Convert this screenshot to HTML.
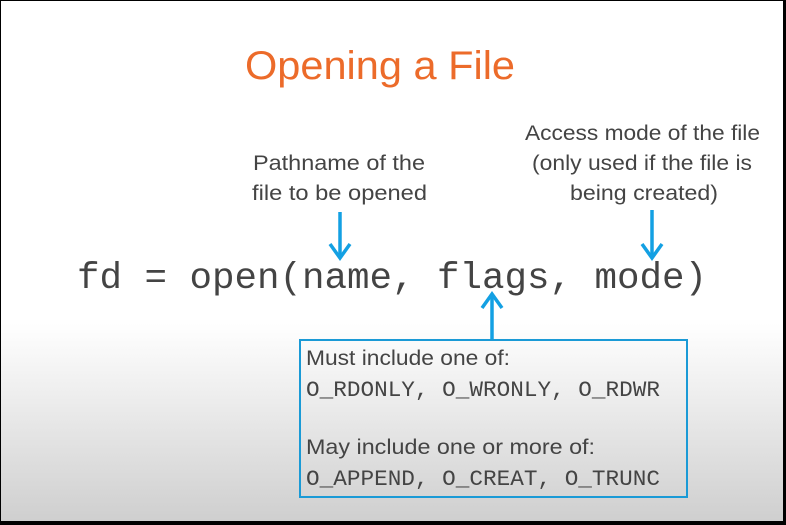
<!DOCTYPE html>
<html><head><meta charset="utf-8"><style>
html,body{margin:0;padding:0;width:786px;height:525px;overflow:hidden;background:#000}
svg{display:block}
</style></head><body>
<svg width="786" height="525" viewBox="0 0 786 525" xmlns="http://www.w3.org/2000/svg">
<defs>
<linearGradient id="bg" x1="0" y1="0" x2="0" y2="1">
<stop offset="0" stop-color="#ffffff"/>
<stop offset="0.62" stop-color="#ffffff"/>
<stop offset="1" stop-color="#cfcfcf"/>
</linearGradient>
</defs>
<rect x="1" y="1" width="782" height="520" fill="url(#bg)"/>
<text x="245" y="79" font-family="Liberation Sans, sans-serif" font-size="40" fill="#ec6b2a" textLength="270" lengthAdjust="spacingAndGlyphs">Opening a File</text>
<g font-family="Liberation Sans, sans-serif" font-size="21" fill="#444">
<text x="253" y="170" textLength="172" lengthAdjust="spacingAndGlyphs">Pathname of the</text>
<text x="252" y="200" textLength="175" lengthAdjust="spacingAndGlyphs">file to be opened</text>
<text x="525" y="140" textLength="235" lengthAdjust="spacingAndGlyphs">Access mode of the file</text>
<text x="532" y="170" textLength="220" lengthAdjust="spacingAndGlyphs">(only used if the file is</text>
<text x="570" y="200" textLength="148" lengthAdjust="spacingAndGlyphs">being created)</text>
</g>
<text x="77" y="288" font-family="Liberation Mono, monospace" font-size="37.5" fill="#444" textLength="630" lengthAdjust="spacingAndGlyphs">fd = open(name, flags, mode)</text>
<g stroke="#13a0e3" stroke-width="3.5" fill="none">
<line x1="340" y1="212" x2="340" y2="256"/>
<polyline points="330,244 340,258 350,244"/>
<line x1="652" y1="210" x2="652" y2="256"/>
<polyline points="642,244 652,258 662,244"/>
<line x1="492" y1="340" x2="492" y2="295"/>
<polyline points="482,308 492,294 502,308"/>
</g>
<rect x="300" y="340" width="387" height="157" fill="none" stroke="#1a9ad6" stroke-width="2"/>
<g fill="#444">
<text x="306" y="365" font-family="Liberation Sans, sans-serif" font-size="21" textLength="204" lengthAdjust="spacingAndGlyphs">Must include one of:</text>
<text x="306" y="396" font-family="Liberation Mono, monospace" font-size="22.5" textLength="354" lengthAdjust="spacingAndGlyphs">O_RDONLY, O_WRONLY, O_RDWR</text>
<text x="306" y="454" font-family="Liberation Sans, sans-serif" font-size="21" textLength="289" lengthAdjust="spacingAndGlyphs">May include one or more of:</text>
<text x="306" y="485" font-family="Liberation Mono, monospace" font-size="22.5" textLength="354" lengthAdjust="spacingAndGlyphs">O_APPEND, O_CREAT, O_TRUNC</text>
</g>
</svg>
</body></html>
